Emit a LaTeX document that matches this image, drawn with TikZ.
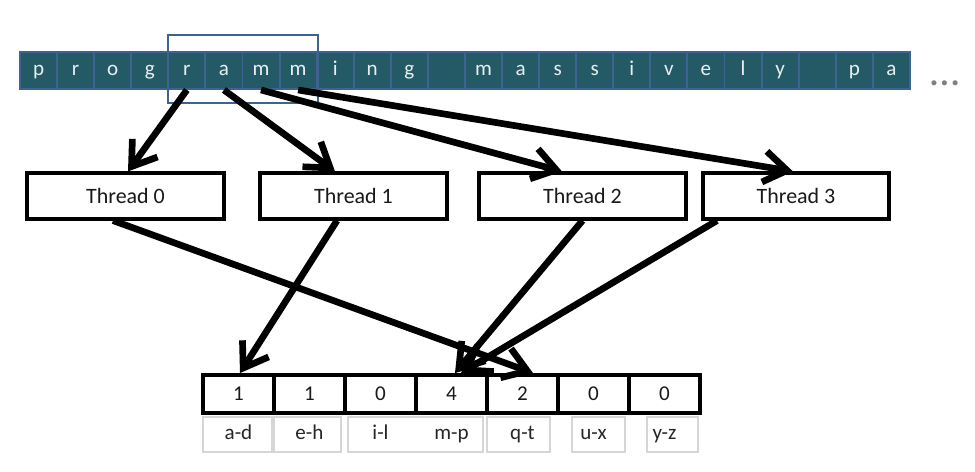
\documentclass[tikz,border=0pt]{standalone}
\usepackage{fontspec}
\setmainfont{Carlito}
\usepackage{tikz}
\usetikzlibrary{arrows.meta}
\usetikzlibrary{calc}

\definecolor{cellteal}{HTML}{245A66}
\definecolor{cellblue}{HTML}{3F6391}
\definecolor{lettergray}{HTML}{E8EEF0}
\definecolor{labelgray}{HTML}{D6D6D6}

\tikzset{
  letter/.style={fill=cellteal, draw=cellblue, line width=1.1pt, text=lettergray,
    minimum width=0.7416cm, minimum height=0.74cm, inner sep=0pt,
    font=\fontsize{12}{14}\selectfont, text height=8pt, text depth=2.5pt},
  thread/.style={draw=black, line width=1.8pt, fill=white, minimum height=0.92cm,
    inner sep=0pt, font=\fontsize{12.5}{14}\selectfont, text=black!90},
  bin/.style={draw=black, line width=2.2pt, minimum width=1.42cm, minimum height=0.76cm,
    inner sep=0pt, font=\fontsize{12}{14}\selectfont, text=black!90},
  binlabel/.style={inner sep=0pt, font=\fontsize{12}{14}\selectfont, text=black!85,
    text height=8pt, text depth=2.4pt},
  pass/.style={line width=3.8pt, arrows=-{Straight Barb[length=4.6mm, width=6.2mm, line width=3.8pt]}}
}

\begin{document}
\begin{tikzpicture}[x=0.02cm, y=-0.02cm]
          \useasboundingbox (0,0) rectangle (975,472);

          % the text, one letter per cell
          \foreach \ch [count=\i from 0] in {p,r,o,g,r,a,m,m,i,n,g,{},m,a,s,s,i,v,e,l,y,{},p,a}
            \node [letter] (c\i) at (38.54+\i*37.08, 70.5) {\ch};
          \node [anchor=base, text=black!50, font=\fontsize{24}{26}\selectfont] (more) at (945,86) {…};

          \draw [cellblue, line width=1.1pt] (168,35) rectangle (318,103); % Draws a rectangle

          \node [thread, minimum width=3.94cm] (t0) at (125.5,196) {Thread 0};
          \node [thread, minimum width=3.74cm] (t1) at (353.5,196) {Thread 1};
          \node [thread, minimum width=4.14cm] (t2) at (582.5,196) {Thread 2};
          \node [thread, minimum width=3.72cm] (t3) at (796,196) {Thread 3};

          % counters and their ranges
          \foreach \v/\lab [count=\k from 0] in {1/a-d,1/e-h,0/i-l,4/m-p,2/q-t,0/u-x,0/y-z} {
            \node [bin] (b\k) at (238.5+\k*71, 394) {\v};
            \node [binlabel] (l\k) at (238.5+\k*71, 434.5) {\lab};
          }
          \draw [labelgray, line width=0.6pt] (203,417) rectangle (272,452); % Draws a rectangle
          \draw [labelgray, line width=0.6pt] (274,417) rectangle (341,452);
          \draw [labelgray, line width=0.6pt] (348,417) rectangle (483,452);
          \draw [labelgray, line width=0.6pt] (487,417) rectangle (550,452);
          \draw [labelgray, line width=0.6pt] (572,417) rectangle (625,452);
          \draw [labelgray, line width=0.6pt] (647,417) rectangle (698,452);

          \draw [pass] (c4.south) -- ([xshift=0.05cm]t0.north);
          \draw [pass] (c5.south) -- ([xshift=-0.37cm]t1.north);
          \draw [pass] (c6.south) -- ([xshift=-0.41cm]t2.north);
          \draw [pass] (c7.south) -- ([xshift=-0.06cm]t3.north);

          \draw [pass] ([xshift=-0.25cm]t0.south) -- ([xshift=0.21cm]b4.north);
          \draw [pass] ([xshift=-0.33cm]t1.south) -- ([xshift=0.03cm]b0.north);
          \draw [pass] (t2.south) -- ([xshift=0.07cm]b3.north);
          \draw [pass] ([xshift=-1.58cm]t3.south) -- ([xshift=0.19cm]b3.north);
        \end{tikzpicture}
\end{document}
